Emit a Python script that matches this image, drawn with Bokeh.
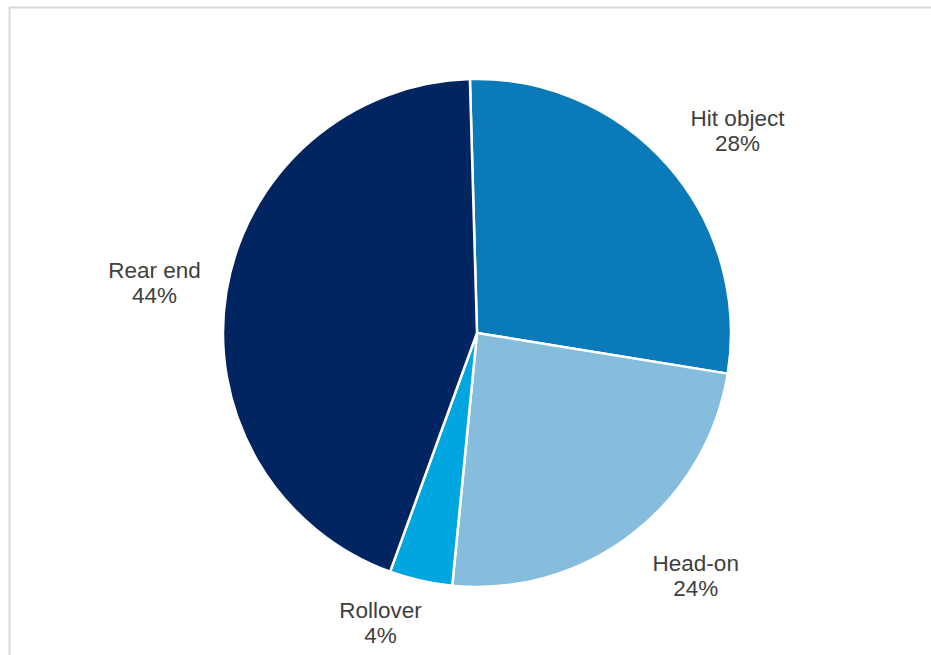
import math
from bokeh.plotting import figure
from bokeh.models import Range1d
from bokeh.core.properties import value
from bokeh.embed import file_html
from bokeh.resources import INLINE

# Data (clockwise from the top)
categories = ["Hit object", "Head-on", "Rollover", "Rear end"]
shares = [28, 24, 4, 44]
colors = ["#0a7ab8", "#86bcdc", "#00a6e0", "#002561"]

W, H = 931, 655
p = figure(width=W, height=H, output_backend="svg", toolbar_location=None,
           x_range=Range1d(0, W), y_range=Range1d(0, H), min_border=0)
p.axis.visible = False
p.grid.visible = False
p.outline_line_color = None
p.background_fill_color = "white"
p.border_fill_color = "white"

# chart frame (cropped at right/bottom)
p.quad(left=[9], right=[W + 50], top=[H - 7], bottom=[-50],
       fill_color=None, line_color="#d9d9d9", line_width=2)

cx, cy, r = 476.5, H - 332.5, 254
first_angle = -1.6  # degrees clockwise from 12 o'clock

total = sum(shares)
starts, ends, mids = [], [], []
acc = first_angle
for v in shares:
    a0 = acc
    a1 = acc + v / total * 360.0
    starts.append(math.radians(90 - a0))
    ends.append(math.radians(90 - a1))
    mids.append((a0 + a1) / 2)
    acc = a1

p.wedge(x=cx, y=cy, radius=r, start_angle=starts, end_angle=ends,
        direction="clock", fill_color=colors, line_color="white", line_width=2.5)

# label placement (best-fit outside the pie)
label_r = [1.298, 1.287, 1.204, 1.285]
label_shift = [3.4, -4.4, 5.6, -0.4]
ang = [m + s for m, s in zip(mids, label_shift)]
lx = [cx + r * k * math.sin(math.radians(a)) for k, a in zip(label_r, ang)]
ly = [cy + r * k * math.cos(math.radians(a)) for k, a in zip(label_r, ang)]
pct = [f"{v}%" for v in shares]

common = dict(text_font=value("Liberation Sans"), text_font_size="22.5px",
              text_color="#404040", text_align="center", text_baseline="middle")
half = 12.5
p.text(x=lx, y=[y + half for y in ly], text=categories, **common)
p.text(x=lx, y=[y - half for y in ly], text=pct, **common)

open("out.html", "w").write(file_html(p, INLINE))
